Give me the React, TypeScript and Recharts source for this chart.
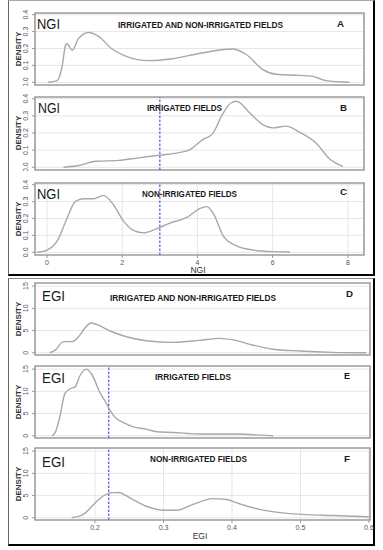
import React from 'react';
import { LineChart, Line, XAxis, YAxis, CartesianGrid, ReferenceLine, ReferenceArea } from 'recharts';

// ---- tick values ----
const ngiXTicks = [0, 2, 4, 6, 8];
const ngiYTicks = [0, 0.1, 0.2, 0.3, 0.4];
const egiXTicks = [0.2, 0.3, 0.4, 0.5, 0.6];
const egiYTicks = [0, 5, 10, 15];

// ---- NGI densities ----
const ngiAllX = [0.03, 0.27, 0.4, 0.49, 0.53, 0.67, 0.84, 1.11, 1.38, 1.73, 2.09, 2.71, 3.33, 4.04, 4.93, 5.29, 5.73, 6.09, 6.71, 7.07, 7.42, 8.04];
const ngiAllY = [0, 0.01, 0.093, 0.217, 0.228, 0.19, 0.26, 0.295, 0.27, 0.197, 0.155, 0.128, 0.139, 0.17, 0.197, 0.166, 0.077, 0.048, 0.041, 0.035, 0.01, 0];

const ngiIrrX = [0.44, 0.84, 1.29, 1.91, 2.44, 2.98, 3.51, 3.82, 4.13, 4.4, 4.67, 4.89, 5.04, 5.38, 5.73, 6.0, 6.36, 6.71, 7.16, 7.51, 7.87];
const ngiIrrY = [0, 0.01, 0.035, 0.04, 0.055, 0.07, 0.085, 0.105, 0.16, 0.195, 0.31, 0.375, 0.385, 0.32, 0.25, 0.23, 0.24, 0.205, 0.14, 0.05, 0.005];

const ngiNonX = [-0.27, 0, 0.27, 0.53, 0.75, 0.97, 1.24, 1.5, 1.77, 2.04, 2.3, 2.57, 2.92, 3.27, 3.72, 4.07, 4.25, 4.42, 4.69, 5.04, 5.49, 6.02, 6.46];
const ngiNonY = [0, 0.013, 0.067, 0.2, 0.3, 0.317, 0.317, 0.337, 0.28, 0.183, 0.13, 0.115, 0.14, 0.173, 0.206, 0.26, 0.27, 0.23, 0.096, 0.038, 0.013, 0.004, 0.002];

// ---- EGI densities ----
const egiAllX = [0.134, 0.142, 0.154, 0.166, 0.176, 0.185, 0.194, 0.202, 0.222, 0.246, 0.275, 0.314, 0.353, 0.382, 0.402, 0.431, 0.46, 0.499, 0.547, 0.596];
const egiAllY = [0, 0.6, 2.5, 2.5, 3.6, 5.5, 6.7, 6.4, 4.9, 3.6, 2.7, 2.35, 2.8, 3.25, 2.9, 1.7, 0.8, 0.4, 0.1, 0];

const egiIrrX = [0.137, 0.142, 0.149, 0.156, 0.164, 0.171, 0.178, 0.187, 0.195, 0.207, 0.217, 0.222, 0.229, 0.241, 0.256, 0.275, 0.29, 0.314, 0.353, 0.377, 0.411, 0.435, 0.46];
const egiIrrY = [0, 0.75, 4.5, 9.5, 10.6, 11, 13.5, 15, 13.9, 9.8, 7.2, 5.7, 4.2, 3.0, 2.0, 1.5, 0.9, 0.75, 0.4, 0.4, 0.4, 0.2, 0];

const egiNonX = [0.166, 0.183, 0.198, 0.212, 0.222, 0.234, 0.251, 0.275, 0.3, 0.319, 0.343, 0.372, 0.392, 0.411, 0.44, 0.474, 0.508, 0.547, 0.601];
const egiNonY = [0, 0.75, 3.0, 4.9, 5.6, 5.7, 4.5, 2.6, 1.7, 1.7, 3.0, 4.3, 4.1, 3.15, 1.9, 1.1, 0.7, 0.5, 0.2];

const toData = (xs: number[], ys: number[]) => xs.map((x, i) => ({ x, y: ys[i] }));

const NGI_X_DOMAIN: [number, number] = [-0.32, 8.43];
const NGI_Y_DOMAIN: [number, number] = [-0.016, 0.41];
const EGI_X_DOMAIN: [number, number] = [0.1124, 0.6015];
const EGI_Y_DOMAIN: [number, number] = [-0.5, 15.7];

const TICK_FONT = 'Liberation Sans, Arial, sans-serif';

type PanelProps = {
  data: { x: number; y: number }[];
  xDomain: [number, number];
  yDomain: [number, number];
  xTicks: number[];
  yTicks: number[];
  yFmt: (v: number) => string;
  xFmt: (v: number) => string;
  plotTop: number;
  plotBottom: number;
  plotRight: number;
  showX: boolean;
  refX?: number;
};

const Panel = (p: PanelProps) => {
  const mTop = 4;
  const xH = p.showX ? 24 : 1;
  const plotH = p.plotBottom - p.plotTop;
  const height = mTop + plotH + xH;
  const width = 383;
  const YTick = (props: any) => {
    const { y, payload } = props;
    return (
      <text transform={`translate(28,${y}) rotate(-90)`} textAnchor="middle" fontSize={7} fill="#555" fontFamily={TICK_FONT}>
        {p.yFmt(payload.value)}
      </text>
    );
  };
  const XTick = (props: any) => {
    const { x, y, payload } = props;
    return (
      <text x={x} y={y + 5} textAnchor="middle" fontSize={7} fill="#555" fontFamily={TICK_FONT}>
        {p.xFmt(payload.value)}
      </text>
    );
  };
  return (
    <div style={{ position: 'absolute', left: 0, top: p.plotTop - mTop }}>
      <LineChart width={width} height={height} data={p.data} margin={{ top: mTop, right: width - p.plotRight, bottom: 0, left: 0 }}>
        <CartesianGrid stroke="#e6e6e6" strokeWidth={1} />
        <XAxis
          dataKey="x"
          type="number"
          domain={p.xDomain}
          allowDataOverflow
          ticks={p.xTicks}
          height={xH}
          tick={p.showX ? <XTick /> : false}
          tickLine={p.showX ? { stroke: '#999' } : false}
          tickSize={3}
          axisLine={false}
          interval={0}
        />
        <YAxis
          type="number"
          domain={p.yDomain}
          allowDataOverflow
          ticks={p.yTicks}
          width={35}
          tick={<YTick />}
          tickLine={{ stroke: '#999' }}
          tickSize={3}
          axisLine={false}
          interval={0}
        />
        <ReferenceArea x1={p.xDomain[0]} x2={p.xDomain[1]} y1={p.yDomain[0]} y2={p.yDomain[1]} fill="none" fillOpacity={0} stroke="#a0a0a0" strokeWidth={1.6} ifOverflow="visible" />
        {p.refX !== undefined && (
          <ReferenceLine x={p.refX} stroke="#6b63e0" strokeWidth={1.3} strokeDasharray="2.5 1.5" />
        )}
        <Line type="monotone" dataKey="y" stroke="#a8a8a8" strokeWidth={1.4} dot={false} isAnimationActive={false} />
      </LineChart>
    </div>
  );
};

const Title = ({ x, y, len, size, children, bold, narrow }: any) => (
  <text
    x={x}
    y={y}
    fontSize={size}
    fontWeight={bold ? 'bold' : 'normal'}
    fontFamily={narrow ? 'Liberation Sans Narrow, Liberation Sans, Arial, sans-serif' : 'Liberation Sans, Arial, sans-serif'}
    textLength={len}
    lengthAdjust="spacingAndGlyphs"
    fill="#1a1a1a"
  >
    {children}
  </text>
);

const Density = ({ cy }: { cy: number }) => (
  <text transform={`translate(21,${cy}) rotate(-90)`} textAnchor="middle" fontSize={8} fontWeight="bold" fill="#333" fontFamily="Liberation Sans, Arial, sans-serif">
    DENSITY
  </text>
);

export default function App() {
  const f1 = (v: number) => v.toFixed(1);
  const f0 = (v: number) => String(v);
  return (
    <div style={{ position: 'absolute', left: 0, top: 0, width: 383, height: 550, background: '#fff', overflow: 'hidden' }}>
      <div style={{ position: 'absolute', left: 8, top: 0, width: 367, height: 276, boxSizing: 'border-box', borderLeft: '1px solid #666', borderTop: '1px solid #aaa', borderRight: '2px solid #000', borderBottom: '2px solid #000' }} />
      <div style={{ position: 'absolute', left: 8, top: 278, width: 367, height: 268, boxSizing: 'border-box', borderLeft: '1px solid #666', borderTop: '1px solid #888', borderRight: '2px solid #000', borderBottom: '2px solid #000' }} />

      <Panel data={toData(ngiAllX, ngiAllY)} xDomain={NGI_X_DOMAIN} yDomain={NGI_Y_DOMAIN} xTicks={ngiXTicks} yTicks={ngiYTicks} yFmt={f1} xFmt={f0} plotTop={13} plotBottom={85} plotRight={364} showX={false} />
      <Panel data={toData(ngiIrrX, ngiIrrY)} xDomain={NGI_X_DOMAIN} yDomain={NGI_Y_DOMAIN} xTicks={ngiXTicks} yTicks={ngiYTicks} yFmt={f1} xFmt={f0} plotTop={97} plotBottom={170} plotRight={364} showX={false} refX={3} />
      <Panel data={toData(ngiNonX, ngiNonY)} xDomain={NGI_X_DOMAIN} yDomain={NGI_Y_DOMAIN} xTicks={ngiXTicks} yTicks={ngiYTicks} yFmt={f1} xFmt={f0} plotTop={183} plotBottom={255} plotRight={364} showX={true} refX={3} />

      <Panel data={toData(egiAllX, egiAllY)} xDomain={EGI_X_DOMAIN} yDomain={EGI_Y_DOMAIN} xTicks={egiXTicks} yTicks={egiYTicks} yFmt={f0} xFmt={f1} plotTop={283} plotBottom={355} plotRight={370} showX={false} />
      <Panel data={toData(egiIrrX, egiIrrY)} xDomain={EGI_X_DOMAIN} yDomain={EGI_Y_DOMAIN} xTicks={egiXTicks} yTicks={egiYTicks} yFmt={f0} xFmt={f1} plotTop={366} plotBottom={438} plotRight={370} showX={false} refX={0.22} />
      <Panel data={toData(egiNonX, egiNonY)} xDomain={EGI_X_DOMAIN} yDomain={EGI_Y_DOMAIN} xTicks={egiXTicks} yTicks={egiYTicks} yFmt={f0} xFmt={f1} plotTop={448} plotBottom={520} plotRight={370} showX={true} refX={0.22} />

      <svg width={383} height={550} style={{ position: 'absolute', left: 0, top: 0, pointerEvents: 'none' }}>
        {/* Panel A */}
        <Title x={37} y={29} len={23} size={14}>NGI</Title>
        <Title x={118} y={28} len={165} size={8.5} bold narrow>IRRIGATED AND NON-IRRIGATED FIELDS</Title>
        <Title x={337} y={27} len={7} size={9} bold>A</Title>
        <Density cy={49} />
        {/* Panel B */}
        <Title x={38} y={113} len={22} size={14}>NGI</Title>
        <Title x={147} y={110.5} len={75} size={8.5} bold narrow>IRRIGATED FIELDS</Title>
        <Title x={340} y={110.5} len={7} size={9} bold>B</Title>
        <Density cy={133} />
        {/* Panel C */}
        <Title x={37} y={199} len={23} size={14}>NGI</Title>
        <Title x={142} y={197} len={95} size={8.5} bold narrow>NON-IRRIGATED FIELDS</Title>
        <Title x={340} y={195} len={7} size={9} bold>C</Title>
        <Density cy={219} />
        <text x={198} y={273} textAnchor="middle" fontSize={8.5} fill="#333" fontFamily="Liberation Sans, Arial, sans-serif">NGI</text>
        {/* Panel D */}
        <Title x={42} y={301} len={23} size={14}>EGI</Title>
        <Title x={110} y={301} len={166} size={8.5} bold narrow>IRRIGATED AND NON-IRRIGATED FIELDS</Title>
        <Title x={346} y={297} len={7} size={9} bold>D</Title>
        <Density cy={319} />
        {/* Panel E */}
        <Title x={42} y={383} len={23} size={14}>EGI</Title>
        <Title x={155} y={380} len={76} size={8.5} bold narrow>IRRIGATED FIELDS</Title>
        <Title x={344} y={379} len={6} size={9} bold>E</Title>
        <Density cy={402} />
        {/* Panel F */}
        <Title x={42} y={467} len={23} size={14}>EGI</Title>
        <Title x={150} y={462} len={97} size={8.5} bold narrow>NON-IRRIGATED FIELDS</Title>
        <Title x={344} y={462} len={6} size={9} bold>F</Title>
        <Density cy={484} />
        <text x={200} y={539} textAnchor="middle" fontSize={8.5} fill="#333" fontFamily="Liberation Sans, Arial, sans-serif">EGI</text>
      </svg>
    </div>
  );
}
